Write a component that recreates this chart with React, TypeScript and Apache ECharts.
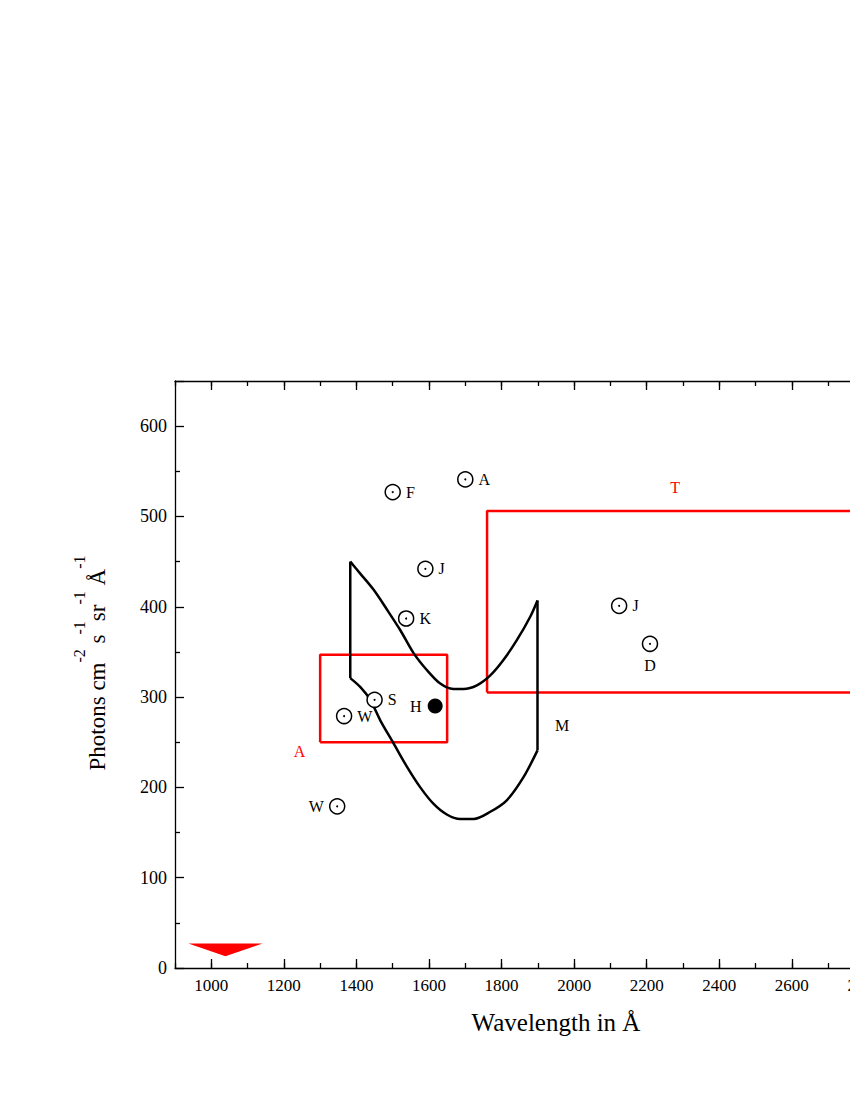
import React, { useEffect, useRef } from 'react';
import * as echarts from 'echarts';

// ---- data ----
const xMajorTicks = [1000, 1200, 1400, 1600, 1800, 2000, 2200, 2400, 2600, 2800, 3000];
const markerNames = ['F', 'A', 'J', 'K', 'S', 'W', 'W', 'J', 'D'];
const markerX = [1500, 1700, 1590, 1537, 1450, 1366, 1347, 2124, 2209];
const markerY = [527, 541, 442, 387, 297, 279, 179, 401, 359];
const filledName = ['H'];
const filledX = [1617];
const filledY = [290];

// M region (upper and lower curves)
const upperX = [1383, 1410, 1447, 1484, 1521, 1557, 1594, 1631, 1667, 1695, 1732, 1769, 1805, 1842, 1879, 1899];
const upperY = [450, 437, 419, 397, 374, 349, 330, 315, 309, 309, 313, 324, 341, 363, 389, 407];
const lowerX = [1383, 1411, 1438, 1466, 1502, 1539, 1576, 1612, 1649, 1686, 1723, 1769, 1815, 1860, 1899];
const lowerY = [321, 311, 297, 274, 249, 223, 200, 182, 170, 165, 165, 173, 186, 211, 241];

// red boxes
const boxAX = [1300, 1650, 1650, 1300, 1300];
const boxAY = [250, 250, 347, 347, 250];
const boxTX = [1760, 2950, 2950, 1760, 1760];
const boxTY = [305, 305, 506, 506, 305];

// red triangle
const triX = [937, 1141, 1039];
const triY = [27, 27, 13];

// region labels
const regionNames = ['A', 'T', 'M'];
const regionX = [1243, 2278, 1967];
const regionY = [240, 532, 268];
const regionColors = ['#ff0000', '#ff0000', '#000000'];

const FONT = '"Liberation Serif", "Times New Roman", serif';

export default function App() {
  const ref = useRef<HTMLDivElement>(null);
  useEffect(() => {
    const chart = echarts.init(ref.current!, null, { renderer: 'svg' });
    const labelPos: Record<number, string> = { 6: 'left', 8: 'bottom' };
    const markerData = markerX.map((x, i) => ({
      value: [x, markerY[i]],
      name: markerNames[i],
      label: { position: labelPos[i] || 'right' },
    }));
    const line = (xs: number[], ys: number[]) => xs.map((x, i) => [x, ys[i]]);
    const baseX = {
      type: 'value',
      min: 900,
      max: 3000,
      gridIndex: 0,
      splitLine: { show: false },
    };
    const option: any = {
      animation: false,
      backgroundColor: '#ffffff',
      grid: { left: 175, top: 381, width: 762, height: 587 },
      xAxis: [
        {
          ...baseX,
          position: 'bottom',
          axisLine: { lineStyle: { color: '#000', width: 1.3 } },
          axisTick: { inside: true, length: 9, customValues: xMajorTicks, lineStyle: { color: '#000', width: 1.3 } },
          axisLabel: {
            customValues: xMajorTicks,
            formatter: (v: number) => String(v),
            color: '#000',
            fontFamily: FONT,
            fontSize: 17,
            margin: 9,
          },
          name: 'Wavelength in Å',
          nameLocation: 'middle',
          nameGap: 42,
          nameTextStyle: { color: '#000', fontFamily: FONT, fontSize: 25 },
        },
        {
          ...baseX,
          position: 'bottom',
          interval: 100,
          axisLine: { show: false },
          axisTick: { inside: true, length: 5, lineStyle: { color: '#000', width: 1.3 } },
          axisLabel: { show: false },
        },
        {
          ...baseX,
          position: 'top',
          axisLine: { lineStyle: { color: '#000', width: 1.3 } },
          axisTick: { inside: true, length: 9, customValues: xMajorTicks, lineStyle: { color: '#000', width: 1.3 } },
          axisLabel: { show: false },
        },
        {
          ...baseX,
          position: 'top',
          interval: 100,
          axisLine: { show: false },
          axisTick: { inside: true, length: 5, lineStyle: { color: '#000', width: 1.3 } },
          axisLabel: { show: false },
        },
      ],
      yAxis: [
        {
          type: 'value',
          min: 0,
          max: 650,
          interval: 100,
          position: 'left',
          splitLine: { show: false },
          axisLine: { show: true, lineStyle: { color: '#000', width: 1.3 } },
          axisTick: { inside: true, length: 9, lineStyle: { color: '#000', width: 1.3 } },
          minorTick: { show: true, splitNumber: 2, length: 5, lineStyle: { color: '#000', width: 1.3 } },
          axisLabel: {
            color: '#000',
            fontFamily: FONT,
            fontSize: 18,
            margin: 8,
            showMaxLabel: false,
            formatter: (v: number) => (v > 600 ? '' : String(v)),
          },
        },
        {
          type: 'value',
          min: 0,
          max: 650,
          interval: 100,
          position: 'right',
          splitLine: { show: false },
          axisLine: { show: true, lineStyle: { color: '#000', width: 1.3 } },
          axisTick: { inside: true, length: 9, lineStyle: { color: '#000', width: 1.3 } },
          axisLabel: { show: false },
        },
      ],
      graphic: [
        {
          type: 'text',
          x: 90,
          y: 663,
          rotation: Math.PI / 2,
          style: {
            text: '{m|Photons cm}{s|-2}{m| s}{s|-1}{m|sr}{s|-1}{m| Å}{s|-1}',
            align: 'center',
            verticalAlign: 'middle',
            fill: '#000',
            rich: {
              m: { fontFamily: FONT, fontSize: 23, lineHeight: 38, verticalAlign: 'bottom', fill: '#000' },
              s: { fontFamily: FONT, fontSize: 16, lineHeight: 38, verticalAlign: 'top', fill: '#000' },
            },
          },
        },
      ],
      series: [
        {
          type: 'custom',
          renderItem: (params: any, api: any) => {
            const pts = triX.map((x, i) => api.coord([x, triY[i]]));
            return { type: 'polygon', shape: { points: pts }, style: { fill: '#ff0000' } };
          },
          data: [[triX[0], triY[0]]],
          silent: true,
          z: 1,
        },
        {
          type: 'line',
          data: line(boxAX, boxAY),
          symbol: 'none',
          lineStyle: { color: '#ff0000', width: 2.5 },
          z: 2,
        },
        {
          type: 'line',
          data: line(boxTX, boxTY),
          symbol: 'none',
          lineStyle: { color: '#ff0000', width: 2.5 },
          z: 2,
        },
        {
          type: 'line',
          data: line(upperX, upperY),
          symbol: 'none',
          smooth: 0.3,
          lineStyle: { color: '#000', width: 2.5 },
          z: 3,
        },
        {
          type: 'line',
          data: line(lowerX, lowerY),
          symbol: 'none',
          smooth: 0.3,
          lineStyle: { color: '#000', width: 2.5 },
          z: 3,
        },
        {
          type: 'line',
          data: [[upperX[0], upperY[0]], [lowerX[0], lowerY[0]]],
          symbol: 'none',
          lineStyle: { color: '#000', width: 2.5 },
          z: 3,
        },
        {
          type: 'line',
          data: [[upperX[upperX.length - 1], upperY[upperY.length - 1]], [lowerX[lowerX.length - 1], lowerY[lowerY.length - 1]]],
          symbol: 'none',
          lineStyle: { color: '#000', width: 2.5 },
          z: 3,
        },
        {
          type: 'scatter',
          data: markerData,
          symbol: 'circle',
          symbolSize: 15,
          itemStyle: { color: '#fff', borderColor: '#000', borderWidth: 1.5, opacity: 1 },
          label: {
            show: true,
            formatter: '{b}',
            color: '#000',
            fontFamily: FONT,
            fontSize: 16,
            distance: 5,
          },
          z: 4,
        },
        {
          type: 'scatter',
          data: line(markerX, markerY),
          symbol: 'circle',
          symbolSize: 2,
          itemStyle: { color: '#000', opacity: 1 },
          z: 5,
        },
        {
          type: 'scatter',
          data: filledX.map((x, i) => ({ value: [x, filledY[i]], name: filledName[i] })),
          symbol: 'circle',
          symbolSize: 15,
          itemStyle: { color: '#000', opacity: 1 },
          label: {
            show: true,
            position: 'left',
            formatter: '{b}',
            color: '#000',
            fontFamily: FONT,
            fontSize: 16,
            distance: 6,
          },
          z: 4,
        },
        {
          type: 'custom',
          renderItem: (params: any, api: any) => {
            const i = params.dataIndex;
            const p = api.coord([regionX[i], regionY[i]]);
            return {
              type: 'text',
              x: p[0],
              y: p[1],
              style: {
                text: regionNames[i],
                fill: regionColors[i],
                font: `16px ${FONT}`,
                align: 'center',
                verticalAlign: 'middle',
              },
            };
          },
          data: regionX.map((x, i) => [x, regionY[i]]),
          silent: true,
          z: 6,
        },
      ],
    };
    chart.setOption(option);
    return () => chart.dispose();
  }, []);
  return (
    <div style={{ position: 'fixed', left: 0, top: 0, width: 850, height: 1100, overflow: 'hidden', background: '#fff' }}>
      <div ref={ref} style={{ width: 1000, height: 1100 }} />
    </div>
  );
}
